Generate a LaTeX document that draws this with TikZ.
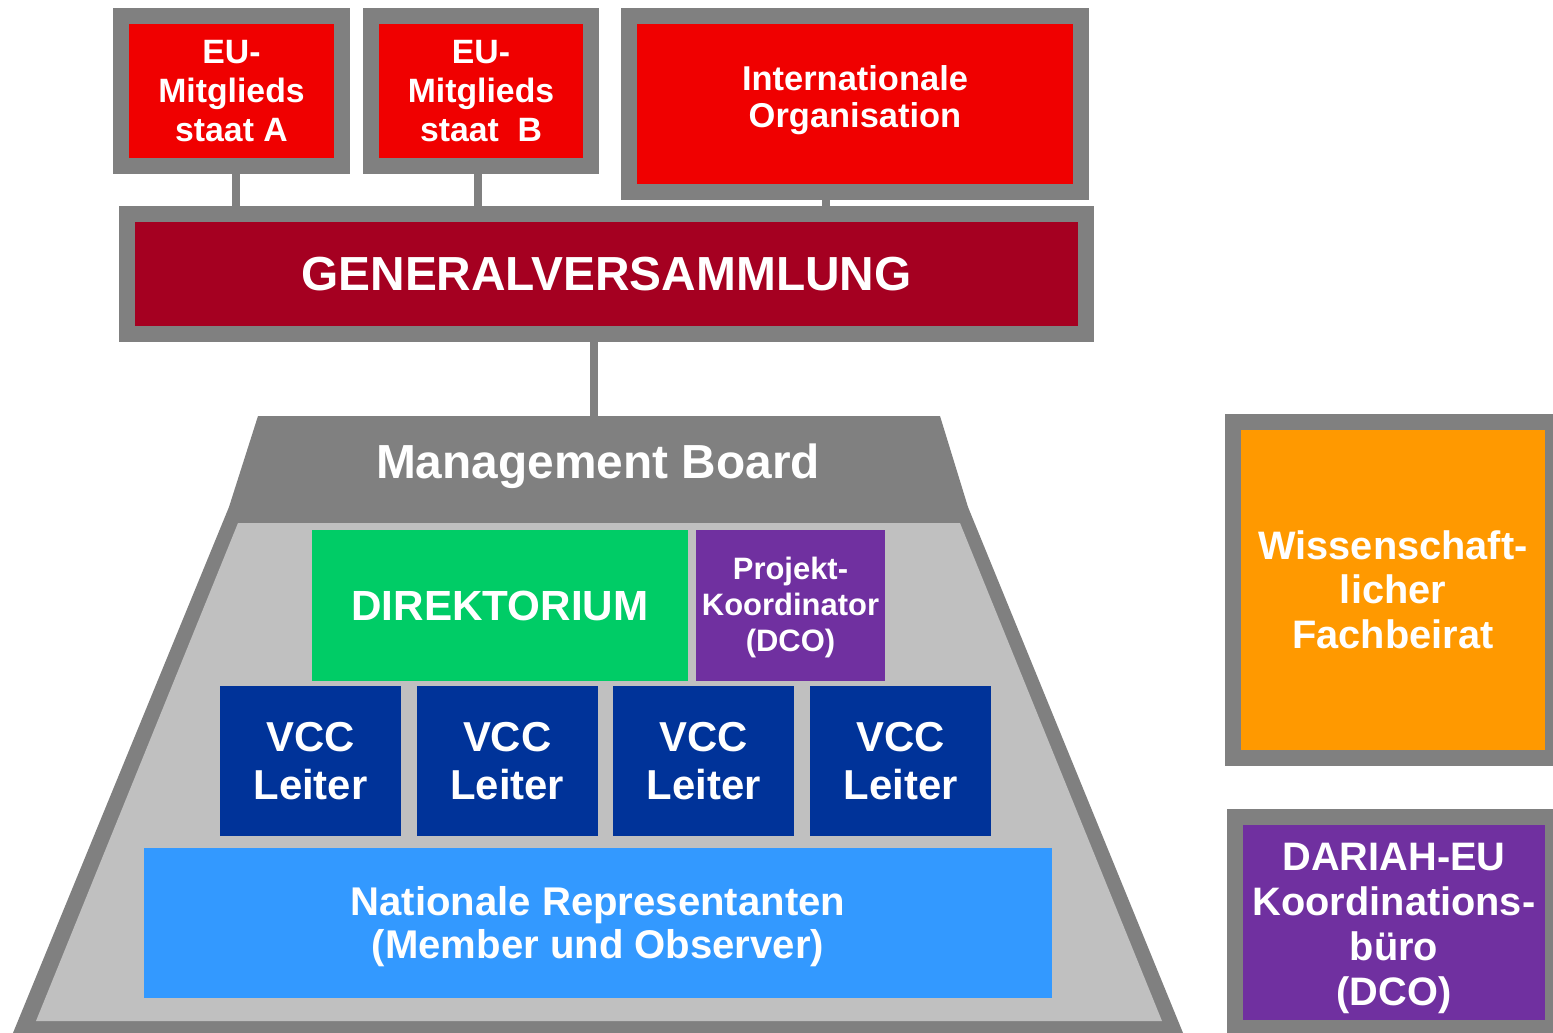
\documentclass[tikz,border=0pt]{standalone}
\usepackage{fontspec}
\setmainfont{Liberation Sans}
\usetikzlibrary{positioning}

\definecolor{framegray}{HTML}{808080}
\definecolor{boardgray}{HTML}{C0C0C0}
\definecolor{eured}{HTML}{F00000}
\definecolor{gvred}{HTML}{A50021}
\definecolor{dirgreen}{HTML}{00CC66}
\definecolor{dcopurple}{HTML}{7030A0}
\definecolor{vccblue}{HTML}{003399}
\definecolor{natblue}{HTML}{3399FF}
\definecolor{saorange}{HTML}{FF9900}

\newcommand{\fsz}[2]{\fontsize{#1}{#2}\selectfont}

\begin{document}
\begin{tikzpicture}[x=0.01cm, y=-0.01cm,
    framed/.style={draw=framegray, line width=4.55pt, inner sep=0pt, align=center, text=white},
    plain/.style={inner sep=0pt, align=center, text=white},
    link/.style={draw=framegray, line width=2.3pt}]
    \useasboundingbox (0,0) rectangle (1553,1033);
    \clip (0,0) rectangle (1553,1033);

    % Management Board trapezoid
    \fill[framegray] (258,416) -- (940,416) -- (968,507) -- (1190,1050) -- (6,1050) -- (229,507) -- cycle;
    \fill[boardgray] (238,523) -- (960,523) -- (1162,1021) -- (36,1021) -- cycle;
    \coordinate (mbtop) at (594,416);
    \node[plain, font=\bfseries\fsz{13.6}{16}] (mb) at (598,466) {Management Board};

    % members and general assembly
    \node[framed, fill=eured, minimum width=2.2cm, minimum height=1.5cm, font=\bfseries\fsz{9.6}{11}] (staatA) at (231.5,91) {EU-\\Mitglieds\\staat A};
    \node[framed, fill=eured, minimum width=2.2cm, minimum height=1.5cm, font=\bfseries\fsz{9.6}{11}] (staatB) at (481,91) {EU-\\Mitglieds\\staat\ \ B};
    \node[framed, fill=eured, minimum width=4.52cm, minimum height=1.76cm, font=\bfseries\fsz{9.8}{10.7}] (intorg) at (855,104) {Internationale\\Organisation\\[-6.4pt]};
    \node[framed, fill=gvred, minimum width=9.59cm, minimum height=1.2cm, font=\bfseries\fsz{13.6}{16}] (gv) at (606.5,274) {GENERALVERSAMMLUNG};

    \draw[link] ([xshift=0.45mm]staatA.south) -- ([xshift=0.45mm]staatA.south |- gv.north);
    \draw[link] ([xshift=-0.3mm]staatB.south) -- ([xshift=-0.3mm]staatB.south |- gv.north);
    \draw[link] ([xshift=-2.9mm]intorg.south) -- ([xshift=-2.9mm]intorg.south |- gv.north);
    \draw[link] (gv.south -| mbtop) -- (mbtop);

    % inside the board
    \node[plain, fill=dirgreen, minimum width=3.76cm, minimum height=1.51cm, font=\bfseries\fsz{12}{14}] (dir) at (500,605.5) {DIREKTORIUM};
    \node[plain, fill=dcopurple, minimum width=1.89cm, minimum height=1.51cm, font=\bfseries\fsz{8.8}{10.2}] (projkoord) at (790.5,605.5) {Projekt-\\Koordinator\\(DCO)\\[-9.4pt]};
    \foreach \i in {1,...,4}
        \node[plain, fill=vccblue, minimum width=1.81cm, minimum height=1.5cm, font=\bfseries\fsz{11.9}{13.7}] (vcc\i) at ({310.5+(\i-1)*196.7},761) {VCC\\Leiter};
    \node[plain, fill=natblue, minimum width=9.08cm, minimum height=1.5cm, font=\bfseries\fsz{11.4}{12.2}] (natrep) at (598,923) {Nationale Representanten\\(Member und Observer)\\[-12pt]};

    % side bodies
    \node[framed, fill=saorange, minimum width=3.19cm, minimum height=3.355cm, font=\bfseries\fsz{11.3}{12.7}] (sab) at (1393,589.75) {Wissenschaft-\\licher\\Fachbeirat};
    \node[framed, fill=dcopurple, minimum width=3.17cm, minimum height=2.11cm, font=\bfseries\fsz{11.3}{12.8}] (dco) at (1394,922.5) {DARIAH-EU\\Koordinations-\\büro\\(DCO)\\[-13.7pt]};
\end{tikzpicture}
\end{document}
